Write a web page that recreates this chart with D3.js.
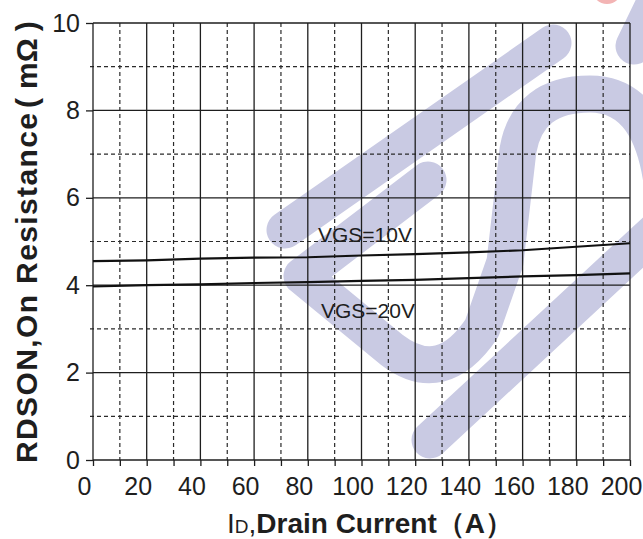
<!DOCTYPE html>
<html>
<head>
<meta charset="utf-8">
<script src="https://cdn.jsdelivr.net/npm/d3@7"></script>
<style>
  body { margin: 0; background: #fff; }
  svg { display: block; }
  text { font-family: "Liberation Sans", Arial, sans-serif; fill: #1e1e1e; }
</style>
</head>
<body>
<svg id="chart" width="643" height="539"></svg>
<script>
// drain current (A) ticks and grid
const currentTicks = [0, 20, 40, 60, 80, 100, 120, 140, 160, 180, 200];
const currentMinor = [10, 30, 50, 70, 90, 110, 130, 150, 170, 190];
// on resistance (mOhm) ticks and grid
const resTicks = [0, 2, 4, 6, 8, 10];
const resMinor = [1, 3, 5, 7, 9];

// curves
const currentPts = [0, 20, 40, 60, 80, 100, 120, 140, 160, 180, 200];
const rdsVgs10 = [4.55, 4.57, 4.61, 4.63, 4.64, 4.68, 4.71, 4.75, 4.80, 4.88, 4.96];
const rdsVgs20 = [3.97, 4.00, 4.02, 4.05, 4.07, 4.10, 4.12, 4.16, 4.20, 4.23, 4.27];
const seriesNames = ["VGS=10V", "VGS=20V"];

const svg = d3.select("#chart");
const margin = { top: 23, right: 13, bottom: 79, left: 93 };
const width = 643 - margin.left - margin.right;   // 537
const height = 539 - margin.top - margin.bottom;  // 437

// faint logo watermark behind the plot
const wm = svg.append("g")
  .attr("fill", "none")
  .attr("stroke", "#c9cae3")
  .attr("stroke-width", 37)
  .attr("stroke-linecap", "round")
  .attr("stroke-linejoin", "round");
wm.append("path").attr("d", "M285,230 L553,43");
wm.append("path").attr("d", "M428,180 L302,276 L392,350 Q442,388 482,328 L505,262 L518,150 Q528,94 590,94 Q655,94 664,200");
wm.append("path").attr("d", "M430,440 L662,225");
wm.append("path").attr("d", "M662,-12 L634,46");
svg.append("circle")
  .attr("cx", 607).attr("cy", -11).attr("r", 13)
  .attr("fill", "none").attr("stroke", "#f3b4b4").attr("stroke-width", 4);

const g = svg.append("g")
  .attr("transform", `translate(${margin.left},${margin.top})`);

const x = d3.scaleLinear().domain([0, 200]).range([0, width]);
const y = d3.scaleLinear().domain([0, 10]).range([height, 0]);

// dashed minor grid
g.append("g").selectAll("line")
  .data(currentMinor)
  .join("line")
  .attr("x1", d => x(d)).attr("x2", d => x(d))
  .attr("y1", 0).attr("y2", height)
  .attr("stroke", "#2a2a2a").attr("stroke-width", 1.2)
  .attr("stroke-dasharray", "4,3");
g.append("g").selectAll("line")
  .data(resMinor)
  .join("line")
  .attr("x1", -3).attr("x2", width)
  .attr("y1", d => y(d)).attr("y2", d => y(d))
  .attr("stroke", "#2a2a2a").attr("stroke-width", 1.2)
  .attr("stroke-dasharray", "4,3");

// solid major grid (also forms the frame)
g.append("g").selectAll("line")
  .data(currentTicks)
  .join("line")
  .attr("x1", d => x(d)).attr("x2", d => x(d))
  .attr("y1", 0).attr("y2", height)
  .attr("stroke", "#1e1e1e").attr("stroke-width", 1.3);
g.append("g").selectAll("line")
  .data(resTicks)
  .join("line")
  .attr("x1", 0).attr("x2", width)
  .attr("y1", d => y(d)).attr("y2", d => y(d))
  .attr("stroke", "#1e1e1e").attr("stroke-width", 1.3);

// axes
const xAxis = g.append("g")
  .attr("transform", `translate(0,${height})`)
  .call(d3.axisBottom(x).tickValues(currentTicks).tickSize(6).tickSizeOuter(0).tickPadding(11));
g.append("g")
  .attr("transform", `translate(0,${height})`)
  .call(d3.axisBottom(x).tickValues(currentMinor).tickSize(6).tickSizeOuter(0).tickFormat(""))
  .call(a => a.select(".domain").remove());
xAxis.selectAll("text").attr("dx", -9);

const yAxis = g.append("g")
  .call(d3.axisLeft(y).tickValues(resTicks).tickSize(7).tickSizeOuter(0).tickPadding(6));

[xAxis, yAxis].forEach(a => {
  a.select(".domain").remove();
  a.selectAll("text")
    .attr("fill", "#1e1e1e")
    .style("font-family", '"Liberation Sans", Arial, sans-serif')
    .style("font-size", "25px");
});
g.selectAll(".tick line").attr("stroke", "#1e1e1e").attr("stroke-width", 1.3);

// curves
const line = d3.line()
  .x((d, i) => x(currentPts[i]))
  .y(d => y(d));
[rdsVgs10, rdsVgs20].forEach(vals => {
  g.append("path")
    .datum(vals)
    .attr("fill", "none")
    .attr("stroke", "#111")
    .attr("stroke-width", 2.2)
    .attr("d", line);
});

// curve labels
svg.append("text")
  .attr("x", 318).attr("y", 242)
  .style("font-size", "21px")
  .text(seriesNames[0]);
svg.append("text")
  .attr("x", 321).attr("y", 318)
  .style("font-size", "21px")
  .text(seriesNames[1]);

// axis titles
svg.append("text")
  .attr("transform", "translate(37,463) rotate(-90)")
  .attr("textLength", 350)
  .attr("lengthAdjust", "spacing")
  .style("font-size", "30px")
  .style("font-weight", "bold")
  .text("RDSON,On Resistance");
const unit = svg.append("text")
  .attr("transform", "translate(37,111) rotate(-90)")
  .style("font-size", "30px")
  .style("font-weight", "bold");
unit.append("tspan").attr("dx", 3).text("(");
unit.append("tspan").attr("dx", 9).text("mΩ");
unit.append("tspan").attr("dx", 7).text(")");

const xt = svg.append("text")
  .attr("x", 227).attr("y", 533)
  .style("font-size", "28px");
xt.append("tspan").text("I");
xt.append("tspan").style("font-size", "19px").text("D");
xt.append("tspan").text(",");
xt.append("tspan").style("font-weight", "bold").text("Drain Current");
xt.append("tspan").style("font-weight", "bold").text("（A）");
</script>
</body>
</html>
